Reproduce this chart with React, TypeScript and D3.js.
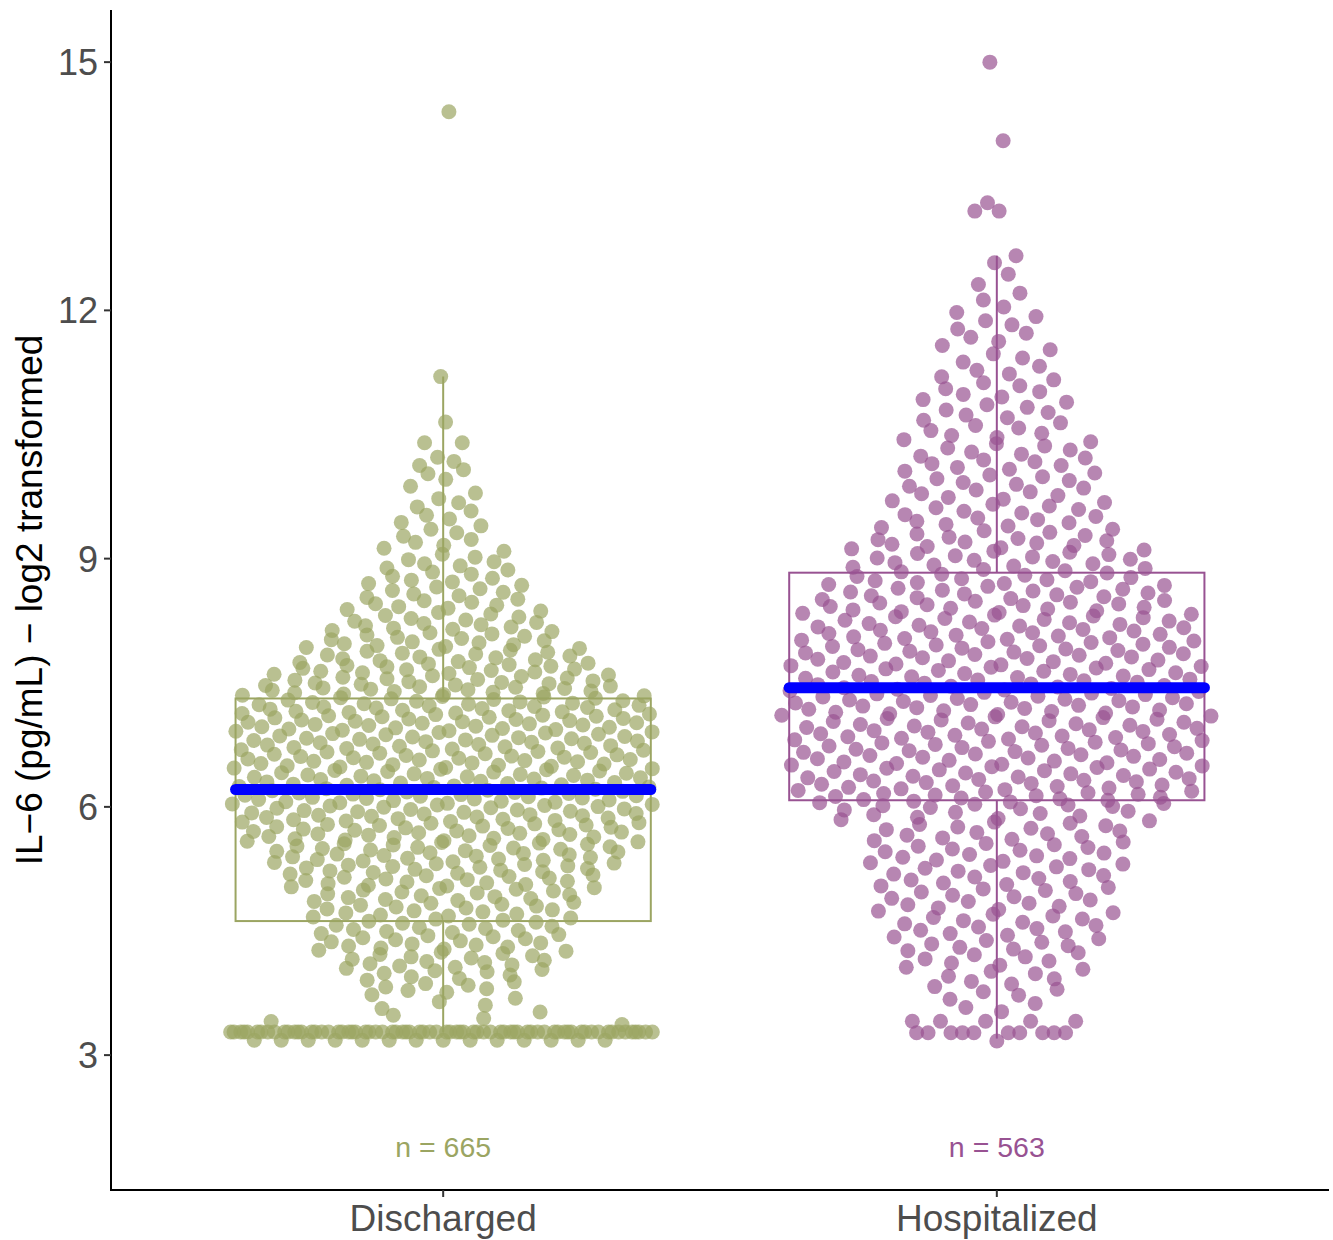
import React from "react";
import * as d3 from "d3";

// ---------- data ----------
const categories = ["Discharged", "Hospitalized"];
const nLabels = ["n = 665", "n = 563"];
const groupColors = ["#9BA562", "#985292"];
const yTicks = [3, 6, 9, 12, 15];
const yTitle = "IL\u22126 (pg/mL) \u2212 log2 transformed";

// [low, high, count] value bins
const dischargedBins: [number, number, number][] = [
  [3.35, 3.5, 4], [3.5, 3.75, 6], [3.75, 4, 12], [4, 4.25, 18], [4.25, 4.5, 20],
  [4.5, 4.75, 20], [4.75, 5, 22], [5, 5.25, 26], [5.25, 5.5, 30], [5.5, 5.75, 34],
  [5.75, 6, 36], [6, 6.25, 38], [6.25, 6.5, 36], [6.5, 6.75, 36], [6.75, 7, 36],
  [7, 7.25, 38], [7.25, 7.5, 34], [7.5, 7.75, 28], [7.75, 8, 22], [8, 8.25, 18],
  [8.25, 8.5, 14], [8.5, 8.75, 12], [8.75, 9, 10], [9, 9.25, 7], [9.25, 9.5, 6],
  [9.5, 9.75, 5], [9.75, 10, 3], [10, 10.25, 5],
];
// [value, count] repeated exact values
const dischargedExact: [number, number][] = [
  [3.18, 14], [3.28, 72], [10.4, 2], [10.65, 1], [11.2, 1], [14.4, 1],
];

const hospitalizedBins: [number, number, number][] = [
  [3.5, 3.75, 5], [3.75, 4, 8], [4, 4.25, 10], [4.25, 4.5, 12], [4.5, 4.75, 13],
  [4.75, 5, 13], [5, 5.25, 14], [5.25, 5.5, 15], [5.5, 5.75, 15], [5.75, 6, 17],
  [6, 6.25, 27], [6.25, 6.5, 26], [6.5, 6.75, 26], [6.75, 7, 27], [7, 7.25, 27],
  [7.25, 7.5, 27], [7.5, 7.75, 26], [7.75, 8, 26], [8, 8.25, 25], [8.25, 8.5, 24],
  [8.5, 8.75, 22], [8.75, 9, 18], [9, 9.25, 18], [9.25, 9.5, 13], [9.5, 9.75, 12],
  [9.75, 10, 11], [10, 10.25, 11], [10.25, 10.5, 10], [10.5, 10.75, 8], [10.75, 11, 8],
  [11, 11.25, 7], [11.25, 11.5, 5], [11.5, 11.75, 5], [11.75, 12, 5], [12, 12.25, 3],
  [12.25, 12.5, 2], [12.5, 12.65, 1],
];
const hospitalizedExact: [number, number][] = [
  [3.17, 1], [3.27, 10], [3.41, 5], [12.66, 1], [13.2, 2], [13.3, 1], [14.05, 1], [15.0, 1],
];

// box statistics
const boxQ1 = [4.62, 6.08];
const boxQ3 = [7.31, 8.83];
const whiskerLow = [3.28, 3.2];
const whiskerHigh = [11.2, 12.66];
const centerLine = [6.21, 7.44];

// ---------- helpers ----------
function expand(bins: [number, number, number][], exact: [number, number][]) {
  const vals: number[] = [];
  bins.forEach(([lo, hi, n]) => {
    for (let k = 0; k < n; k++) vals.push(lo + ((k + 0.5) / n) * (hi - lo));
  });
  exact.forEach(([v, n]) => {
    for (let k = 0; k < n; k++) vals.push(v);
  });
  return vals.sort((a, b) => a - b);
}

function vdc(n: number) {
  let v = 0, denom = 1;
  while (n > 0) {
    denom *= 2;
    v += (n % 2) / denom;
    n = Math.floor(n / 2);
  }
  return v;
}

function quasi(vals: number[], halfWidth: number) {
  const bw = 0.16;
  const dens = vals.map((v) => d3.sum(vals, (u) => Math.exp(-0.5 * ((v - u) / bw) ** 2)));
  const dmax = d3.max(vals.map((v, i) => (v >= 3.6 ? dens[i] : 0))) as number;
  return vals.map((v, i) => {
    const f = Math.min(1, dens[i] / dmax) ** 0.8;
    const off = (vdc(i + 1) - 0.5) * 2 * halfWidth * f;
    return { v, off };
  });
}

export default function App() {
  const W = 1333, H = 1240;
  const x = d3.scaleLinear().domain([0.4, 2.6]).range([111, 1329]);
  const y = d3.scaleLinear().domain([1.37, 15.63]).range([1190, 10]);
  const font = "'Liberation Sans', Arial, Helvetica, sans-serif";

  const groups = [
    quasi(expand(dischargedBins, dischargedExact), 0.39),
    quasi(expand(hospitalizedBins, hospitalizedExact), 0.39),
  ];

  return (
    <svg width={W} height={H} style={{ position: "absolute", left: 0, top: 0, background: "#fff" }}>
      {groups.map((pts, gi) => (
        <g key={"p" + gi}>
          {pts.map((p, i) => (
            <circle key={i} cx={x(gi + 1 + p.off)} cy={y(p.v)} r={7.5}
              fill={groupColors[gi]} fillOpacity={0.7} />
          ))}
        </g>
      ))}
      {categories.map((c, gi) => {
        const cx = x(gi + 1);
        const x0 = x(gi + 1 - 0.375), x1 = x(gi + 1 + 0.375);
        const col = groupColors[gi];
        return (
          <g key={"b" + gi} stroke={col} strokeWidth={2} fill="none">
            <rect x={x0} y={y(boxQ3[gi])} width={x1 - x0} height={y(boxQ1[gi]) - y(boxQ3[gi])} />
            <line x1={cx} x2={cx} y1={y(boxQ3[gi])} y2={y(whiskerHigh[gi])} />
            <line x1={cx} x2={cx} y1={y(boxQ1[gi])} y2={y(whiskerLow[gi])} />
            <line x1={x0} x2={x1} y1={y(centerLine[gi])} y2={y(centerLine[gi])}
              stroke="#0000FF" strokeWidth={11} strokeLinecap="round" />
          </g>
        );
      })}
      {categories.map((c, gi) => (
        <text key={"n" + gi} x={x(gi + 1)} y={1157} textAnchor="middle" fontFamily={font}
          fontSize={28.5} fill={groupColors[gi]}>{nLabels[gi]}</text>
      ))}
      {/* axes */}
      <line x1={111} x2={111} y1={10} y2={1191} stroke="#000" strokeWidth={2} />
      <line x1={110} x2={1329} y1={1190} y2={1190} stroke="#000" strokeWidth={2} />
      {yTicks.map((t) => (
        <g key={"yt" + t}>
          <line x1={104} x2={111} y1={y(t)} y2={y(t)} stroke="#333" strokeWidth={2} />
          <text x={98} y={y(t)} dy="0.36em" textAnchor="end" fontFamily={font} fontSize={36} fill="#4D4D4D">{t}</text>
        </g>
      ))}
      {categories.map((c, gi) => (
        <g key={"xt" + gi}>
          <line x1={x(gi + 1)} x2={x(gi + 1)} y1={1190} y2={1197} stroke="#333" strokeWidth={2} />
          <text x={x(gi + 1)} y={1231} textAnchor="middle" fontFamily={font} fontSize={37} fill="#4D4D4D">{c}</text>
        </g>
      ))}
      <text transform={`translate(42, ${y(8.5)}) rotate(-90)`} textAnchor="middle" fontFamily={font}
        fontSize={37} fill="#000">{yTitle}</text>
    </svg>
  );
}
